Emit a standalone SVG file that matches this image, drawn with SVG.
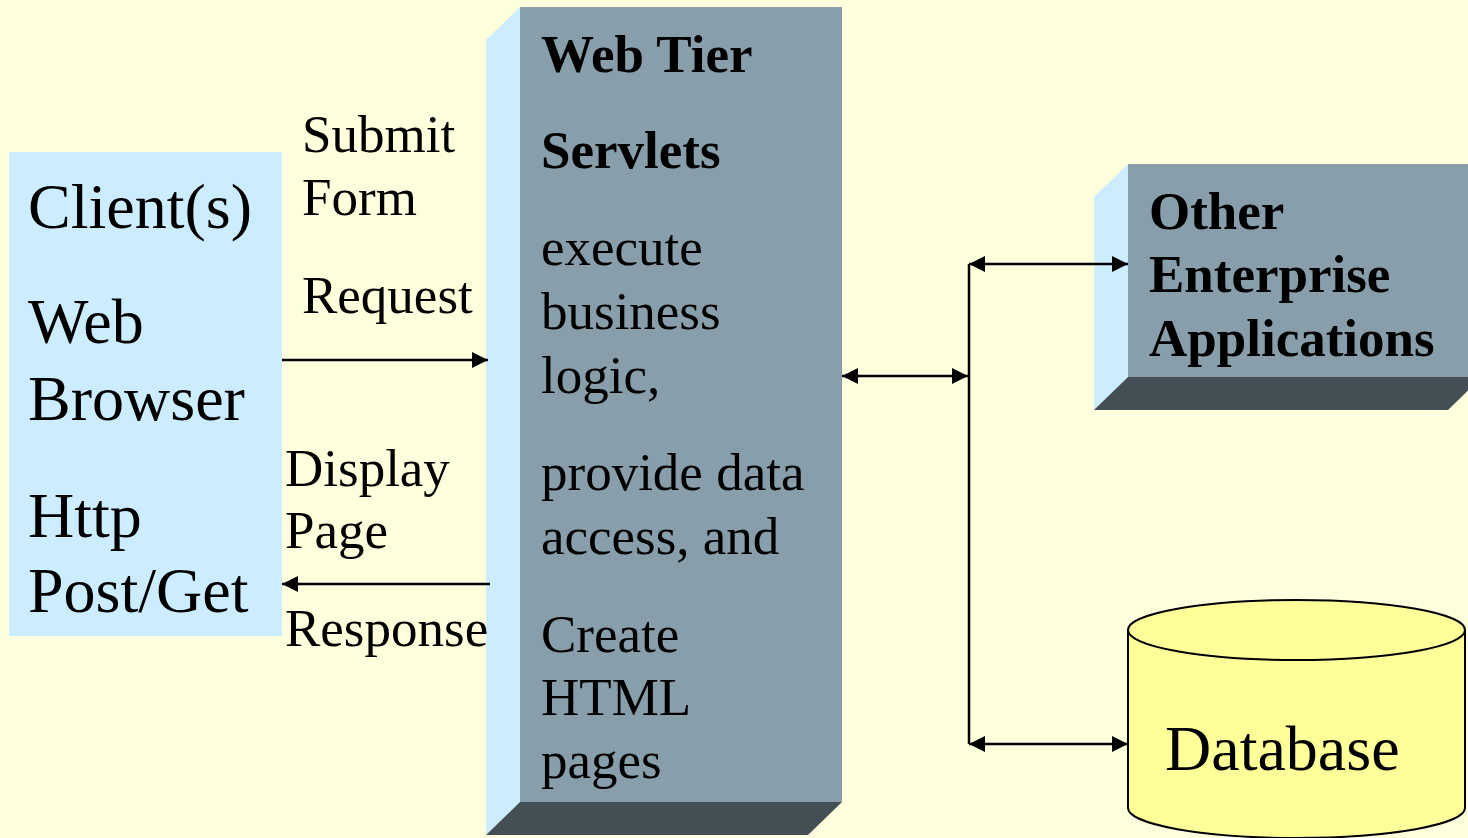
<svg xmlns="http://www.w3.org/2000/svg" width="1468" height="838" viewBox="0 0 1468 838">
<style>
.t{font-family:"Liberation Serif","Times New Roman",serif;fill:#000}
.r53{font-size:53px}
.b53{font-size:53px;font-weight:bold}
.r64{font-size:64px}
.side{fill:#CCECFF}
.front{fill:#889FAB}
.dark{fill:#444E55}
.ln{stroke:#000;stroke-width:2.5;fill:none}
</style>
<defs>
<marker id="ah" viewBox="0 0 10 10" refX="10" refY="5" markerWidth="6.5" markerHeight="6.5" orient="auto-start-reverse" markerUnits="strokeWidth">
<path d="M0,0 L10,5 L0,10 z" fill="#000"/>
</marker>
</defs>
<rect width="1468" height="838" fill="#FFFFDD"/>

<g id="client">
<rect x="9" y="152" width="273" height="484" class="side"/>
<text class="t r64" x="28" y="228">Client(s)</text>
<text class="t r64" x="28" y="343">Web</text>
<text class="t r64" x="28" y="420">Browser</text>
<text class="t r64" x="28" y="537">Http</text>
<text class="t r64" x="28" y="612">Post/Get</text>
</g>

<g id="webtier">
<polygon class="side" points="486,40 520,7 520,802 486,835"/>
<rect class="front" x="520" y="7" width="322" height="795"/>
<polygon class="dark" points="520,802 842,802 808,835 486,835"/>
<text class="t b53" x="541" y="72">Web Tier</text>
<text class="t b53" x="541" y="168">Servlets</text>
<text class="t r53" x="541" y="265">execute</text>
<text class="t r53" x="541" y="329">business</text>
<text class="t r53" x="541" y="393">logic,</text>
<text class="t r53" x="541" y="490">provide data</text>
<text class="t r53" x="541" y="554">access, and</text>
<text class="t r53" x="541" y="652">Create</text>
<text class="t r53" x="541" y="715">HTML</text>
<text class="t r53" x="541" y="778">pages</text>
</g>

<g id="enterprise">
<polygon class="side" points="1094,197 1128,164 1128,377 1094,410"/>
<rect class="front" x="1128" y="164" width="360" height="213"/>
<polygon class="dark" points="1128,377 1482,377 1448,410 1094,410"/>
<text class="t b53" x="1149" y="229">Other</text>
<text class="t b53" x="1149" y="292">Enterprise</text>
<text class="t b53" x="1149" y="356">Applications</text>
</g>

<g id="database">
<path d="M1128,630 L1128,808 A168.5,30 0 0 0 1465,808 L1465,630" fill="#FFFF99" stroke="#000" stroke-width="2"/>
<ellipse cx="1296.5" cy="630" rx="168.5" ry="30" fill="#FFFF99" stroke="#000" stroke-width="2"/>
<text class="t r64" x="1165" y="770">Database</text>
</g>

<g id="labels">
<text class="t r53" x="302" y="152">Submit</text>
<text class="t r53" x="302" y="215">Form</text>
<text class="t r53" x="302" y="313">Request</text>
<text class="t r53" x="285" y="486">Display</text>
<text class="t r53" x="285" y="548">Page</text>
<text class="t r53" x="285" y="646">Response</text>
</g>

<g id="connectors">
<line class="ln" x1="282" y1="360" x2="488" y2="360" marker-end="url(#ah)"/>
<line class="ln" x1="490" y1="584" x2="282" y2="584" marker-end="url(#ah)"/>
<line class="ln" x1="842" y1="376" x2="968" y2="376" marker-start="url(#ah)" marker-end="url(#ah)"/>
<line class="ln" x1="969" y1="264" x2="969" y2="744"/>
<line class="ln" x1="969" y1="264" x2="1128" y2="264" marker-start="url(#ah)" marker-end="url(#ah)"/>
<line class="ln" x1="969" y1="744" x2="1128" y2="744" marker-start="url(#ah)" marker-end="url(#ah)"/>
</g>
</svg>
